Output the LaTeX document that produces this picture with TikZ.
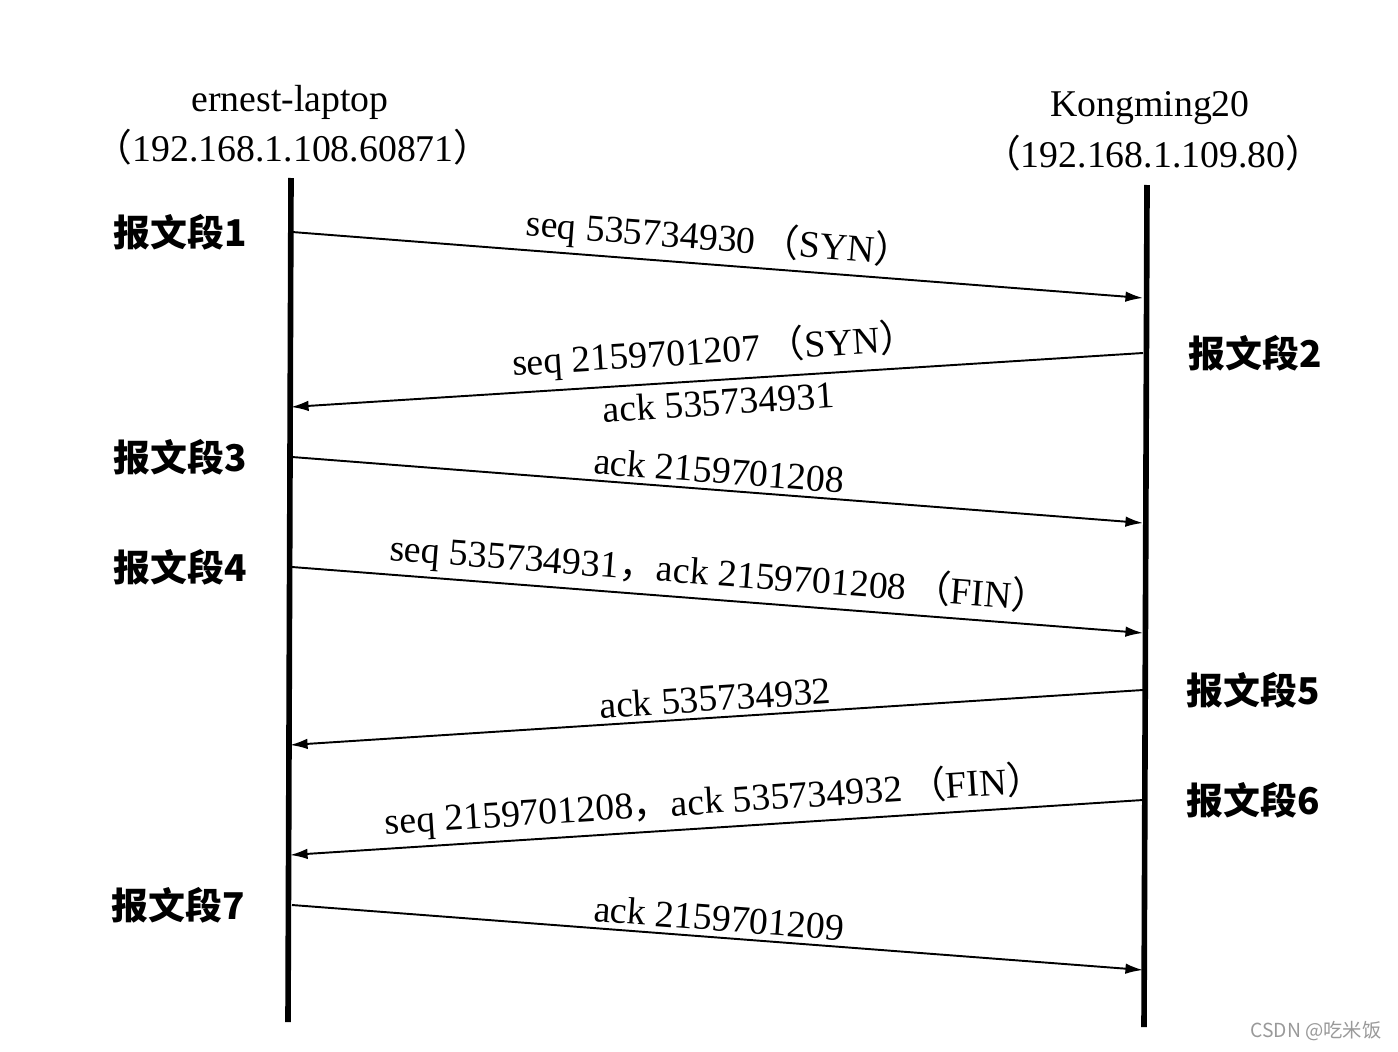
\documentclass[tikz,border=0pt]{standalone}
\usepackage{fontspec}
\setmainfont{Liberation Serif}
\newfontfamily\cjk{Noto Sans CJK SC}
\usetikzlibrary{arrows.meta, positioning}

% full-width punctuation
\newcommand{\fwl}{\,{\cjk （}}
\newcommand{\fwr}{{\cjk ）}}
\newcommand{\fwc}{{\cjk ，}}

\begin{document}
\begin{tikzpicture}[
    x=0.02cm, y=-0.02cm,
    hostlabel/.style={font=\fontsize{21.5}{24}\selectfont, align=center, inner sep=0pt},
    seglabel/.style={font=\cjk\bfseries\fontsize{21}{24}\selectfont, inner sep=0pt},
    lifeline/.style={line width=3.2pt},
    msg/.style={-{Latex[length=10pt, width=6pt]}, line width=1.1pt},
    msglabel/.style={font=\fontsize{21.5}{24}\selectfont, sloped, inner sep=3pt},
]
\useasboundingbox (0,0) rectangle (1398,1051);

% hosts
\node[hostlabel] (client) at (290,102) {ernest-laptop};
\node[hostlabel] (clientip) at (290,147) {\fwl 192.168.1.108.60871\fwr};
\node[hostlabel] (server) at (1150,108) {Kongming20};
\node[hostlabel] (serverip) at (1150,153) {\fwl 192.168.1.109.80\fwr};

% lifelines
\coordinate (ltop) at (291,178);
\coordinate (lbot) at (288,1022);
\coordinate (rtop) at (1147,185);
\coordinate (rbot) at (1144,1027);
\draw[lifeline] (ltop) -- (lbot);
\draw[lifeline] (rtop) -- (rbot);

% message end points
\coordinate (a1) at (292,232);  \coordinate (b1) at (1143,298);
\coordinate (b2) at (1143,353); \coordinate (a2) at (291,407);
\coordinate (a3) at (292,457);  \coordinate (b3) at (1143,523);
\coordinate (a4) at (292,567);  \coordinate (b4) at (1143,633);
\coordinate (b5) at (1143,690); \coordinate (a5) at (290,745);
\coordinate (b6) at (1143,800); \coordinate (a6) at (290,855);
\coordinate (a7) at (292,905);  \coordinate (b7) at (1143,970);

% segment labels
\node[seglabel] (seg1) at (180,232) {报文段1};
\node[seglabel] (seg2) at (1255,353) {报文段2};
\node[seglabel] (seg3) at (180,457) {报文段3};
\node[seglabel] (seg4) at (180,567) {报文段4};
\node[seglabel] (seg5) at (1253,690) {报文段5};
\node[seglabel] (seg6) at (1253,800) {报文段6};
\node[seglabel] (seg7) at (178,905) {报文段7};

% messages
\draw[msg] (a1) -- node[msglabel, above] {seq 535734930\fwl SYN\fwr} (b1);
\draw[msg] (b2) -- node[msglabel, above, inner sep=4.5pt] {seq 2159701207\fwl SYN\fwr}
                   node[msglabel, below, inner sep=4.5pt] {ack 535734931} (a2);
\draw[msg] (a3) -- node[msglabel, above] {ack 2159701208} (b3);
\draw[msg] (a4) -- node[msglabel, above] {seq 535734931\fwc ack 2159701208\fwl FIN\fwr} (b4);
\draw[msg] (b5) -- node[msglabel, above] {ack 535734932} (a5);
\draw[msg] (b6) -- node[msglabel, above] {seq 2159701208\fwc ack 535734932\fwl FIN\fwr} (a6);
\draw[msg] (a7) -- node[msglabel, above] {ack 2159701209} (b7);

% watermark
\node[font=\cjk\fontsize{11}{13}\selectfont, text=gray!80, inner sep=0pt] (mark) at (1316,1031) {CSDN @吃米饭};
\end{tikzpicture}
\end{document}
